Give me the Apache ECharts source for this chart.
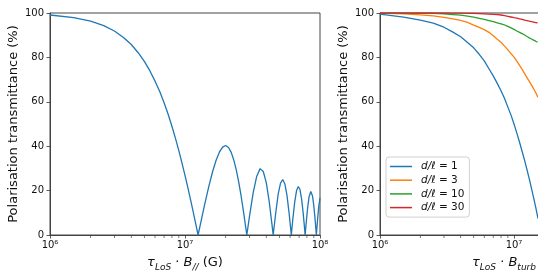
<!DOCTYPE html>
<html><head><meta charset="utf-8">
<script src="https://cdn.jsdelivr.net/npm/echarts@6/dist/echarts.min.js"></script>
<style>html,body{margin:0;padding:0;background:#fff}#c{width:538px;height:279px}</style>
</head><body><div id="c"></div>
<script>
// Left panel: tau_LoS * B_parallel (G) vs transmittance (%)
const leftX = [1e6,1.5e6,2e6,2.5e6,3e6,3.5e6,4e6,4.5e6,5e6,5.5e6,6e6,6.5e6,7e6,7.5e6,8e6,8.5e6,9e6,9.5e6,1e7,1.05e7,1.1e7,1.15e7,1.2e7,1.25e7,
  1.3e7,1.4e7,1.5e7,1.6e7,1.7e7,1.8e7,1.9e7,2e7,2.1e7,2.2e7,2.3e7,2.4e7,2.5e7,2.6e7,2.7e7,2.8e7,2.87e7,
  3e7,3.2e7,3.4e7,3.6e7,3.7e7,3.8e7,4e7,4.2e7,4.4e7,4.5e7,
  4.7e7,4.9e7,5.1e7,5.3e7,5.5e7,5.7e7,5.9e7,6e7,6.13e7,
  6.3e7,6.5e7,6.7e7,6.9e7,7.1e7,7.3e7,7.5e7,7.65e7,7.76e7,
  7.9e7,8.1e7,8.3e7,8.55e7,8.8e7,9e7,9.2e7,9.4e7,
  9.6e7,9.8e7,1e8];
const leftY = [99.1,97.9,96.3,94.3,91.9,89.0,85.8,82.1,78.2,73.9,69.3,64.6,59.6,54.4,49.0,43.5,38.0,32.4,26.9,21.3,15.8,10.4,5.1,0,
  4.8,13.9,21.8,28.5,33.7,37.4,39.6,40.3,39.4,37.2,33.7,29.2,23.8,17.8,11.3,4.6,0,
  8.2,19.1,26.5,29.9,29.9,28.6,23.6,15.3,5.1,0,
  9.9,18.4,23.4,25.0,22.9,17.6,10.0,5.6,0,
  7.5,14.9,19.9,21.8,20.6,16.4,10.1,4.4,0,
  5.4,12.3,17.2,19.6,17.6,13.1,6.9,0,
  7.2,13.0,16.7];

// Right panel: tau_LoS * B_turb vs transmittance (%)
const rightX = [1e6,1.5e6,2e6,2.5e6,3e6,3.5e6,4e6,4.5e6,5e6,5.5e6,6e6,6.5e6,7e6,7.5e6,8e6,8.5e6,9e6,9.5e6,1e7,1.05e7,1.1e7,1.15e7,1.2e7,1.25e7,1.3e7,1.35e7,1.4e7,1.45e7,1.5e7,1.51e7];
const rightD1  = [99.5,98.1,96.8,95.4,93.6,91.4,89.3,86.7,84.3,81.4,78.4,74.9,71.7,68.3,65.0,61.5,57.6,54.0,50.0,45.9,41.8,37.6,33.6,29.4,25.3,21.0,16.8,12.7,8.3,7.4];
const rightD3  = [99.9,99.6,99.2,98.7,98.0,97.4,96.7,95.8,94.5,93.5,92.5,91.3,89.8,88.2,86.8,85.1,83.4,81.7,80.1,78.3,76.4,74.6,72.7,70.9,69.2,67.5,65.9,64.2,62.3,62.0];
const rightD10 = [100,99.95,99.9,99.8,99.6,99.3,99.0,98.6,98.1,97.6,97.1,96.6,96.1,95.6,95.1,94.6,94.0,93.3,92.6,91.9,91.3,90.7,90.1,89.4,88.8,88.3,87.8,87.3,86.8,86.7];
const rightD30 = [100,100,100,100,100,99.95,99.9,99.85,99.8,99.7,99.6,99.5,99.4,99.3,99.1,98.8,98.5,98.2,97.9,97.7,97.4,97.1,96.8,96.6,96.3,96.1,95.9,95.7,95.5,95.4];

const seriesNames = ['d/ℓ = 1','d/ℓ = 3','d/ℓ = 10','d/ℓ = 30'];
const colors = ['#1f77b4','#ff7f0e','#2ca02c','#d62728'];
const yTicks = [0,20,40,60,80,100];
const minorTicksLeft = [2e6,3e6,4e6,5e6,6e6,7e6,8e6,9e6,2e7,3e7,4e7,5e7,6e7,7e7,8e7,9e7];
const minorTicksRight = [2e6,3e6,4e6,5e6,6e6,7e6,8e6,9e6];

const FONT = 'DejaVu Sans';
const SPINE = '#444';
const sup = {'0':'⁰','1':'¹','2':'²','3':'³','4':'⁴','5':'⁵','6':'⁶','7':'⁷','8':'⁸','9':'⁹'};
function powLabel(v){
  const e = Math.log10(v);
  if (Math.abs(e - Math.round(e)) > 1e-6) return '';
  return '10' + String(Math.round(e)).split('').map(c => sup[c]).join('');
}
const zip = (xs, ys) => xs.map((x, i) => [x, ys[i]]);
const nameRich = {
  i: {fontFamily: FONT, fontSize: 13, fontStyle: 'italic', color: '#111', lineHeight: 18, verticalAlign: 'middle'},
  r: {fontFamily: FONT, fontSize: 13, color: '#111', lineHeight: 18, verticalAlign: 'middle'},
  s: {fontFamily: FONT, fontSize: 9, fontStyle: 'italic', color: '#111', verticalAlign: 'bottom'}
};

function xAxis(idx, max, name, pad){
  return {
    type: 'log', logBase: 10, gridIndex: idx, min: 1e6, max: max,
    axisLine: {show: true, lineStyle: {color: SPINE, width: 1}},
    axisTick: {show: true, length: 3.5, lineStyle: {color: '#333', width: 0.8}},
    axisLabel: {formatter: powLabel, fontFamily: FONT, fontSize: 10, color: '#111', margin: 5, showMaxLabel: idx === 0},
    splitLine: {show: false}, minorTick: {show: false},
    name: name, nameLocation: 'middle', nameGap: 19, nameMoveOverlap: false,
    nameTextStyle: {rich: nameRich, padding: pad}
  };
}
function yAxis(idx){
  return {
    type: 'value', gridIndex: idx, min: yTicks[0], max: yTicks[yTicks.length-1], interval: yTicks[1]-yTicks[0],
    axisLine: {show: true, lineStyle: {color: SPINE, width: 1}},
    axisTick: {show: true, length: 3.5, lineStyle: {color: '#333', width: 0.8}},
    axisLabel: {fontFamily: FONT, fontSize: 10, color: '#111', margin: 6},
    splitLine: {show: false},
    name: 'Polarisation transmittance (%)', nameLocation: 'middle', nameGap: 30, nameMoveOverlap: false,
    nameTextStyle: {fontFamily: FONT, fontSize: 13, color: '#111'}
  };
}
function minorSeries(idx, ticks){
  return {
    type: 'scatter', xAxisIndex: idx, yAxisIndex: idx, silent: true, clip: false,
    data: ticks.map(v => [v, 0]), symbol: 'rect', symbolSize: [0.8, 2.5], symbolOffset: [0, 1.75],
    itemStyle: {color: '#333'}, z: 1
  };
}
function lineSeries(idx, name, xs, ys, color){
  return {
    type: 'line', name: name, xAxisIndex: idx, yAxisIndex: idx, data: zip(xs, ys),
    showSymbol: false, symbol: 'none', smooth: false, clip: true,
    lineStyle: {color: color, width: 1.3}, itemStyle: {color: color}, z: 3
  };
}

const chart = echarts.init(document.getElementById('c'), null, {renderer: 'canvas'});
chart.setOption({
  animation: false,
  backgroundColor: '#fff',
  grid: [
    {left: 50, right: 218, top: 13, bottom: 44, show: true, borderColor: SPINE, borderWidth: 1, backgroundColor: 'transparent', outerBoundsMode: 'none', containLabel: false},
    {left: 380, right: -2, top: 13, bottom: 44, show: true, borderColor: SPINE, borderWidth: 1, backgroundColor: 'transparent', outerBoundsMode: 'none', containLabel: false}
  ],
  xAxis: [
    xAxis(0, 1e8, '{i|τ}{s|LoS}{r| · }{i|B}{s|//}{r| (G)}', [0,0,0,0]),
    xAxis(1, 1.563e7, '{i|τ}{s|LoS}{r| · }{i|B}{s|turb}', [0,0,0,88])
  ],
  yAxis: [yAxis(0), yAxis(1)],
  legend: {
    data: seriesNames, orient: 'vertical', left: 386, top: 157,
    itemWidth: 22, itemHeight: 14, itemGap: 2.7,
    icon: 'path://M0,0H22V1.5H0Z', symbolKeepAspect: true,
    padding: [4, 5, 4, 4], backgroundColor: 'rgba(255,255,255,0.8)',
    borderColor: '#d0d0d0', borderWidth: 1, borderRadius: 3, selectedMode: false,
    formatter: n => { const p = n.split(' = '); return '{i|' + p[0] + '}{r| = ' + p[1] + '}'; },
    textStyle: {
      padding: [0, 0, 0, 4],
      rich: {
        i: {fontFamily: FONT, fontSize: 10.5, fontStyle: 'italic', color: '#111'},
        r: {fontFamily: FONT, fontSize: 10.5, color: '#111'}
      }
    }
  },
  series: [
    lineSeries(0, 'left', leftX, leftY, colors[0]),
    lineSeries(1, seriesNames[0], rightX, rightD1, colors[0]),
    lineSeries(1, seriesNames[1], rightX, rightD3, colors[1]),
    lineSeries(1, seriesNames[2], rightX, rightD10, colors[2]),
    lineSeries(1, seriesNames[3], rightX, rightD30, colors[3]),
    minorSeries(0, minorTicksLeft),
    minorSeries(1, minorTicksRight)
  ]
});
</script></body></html>
